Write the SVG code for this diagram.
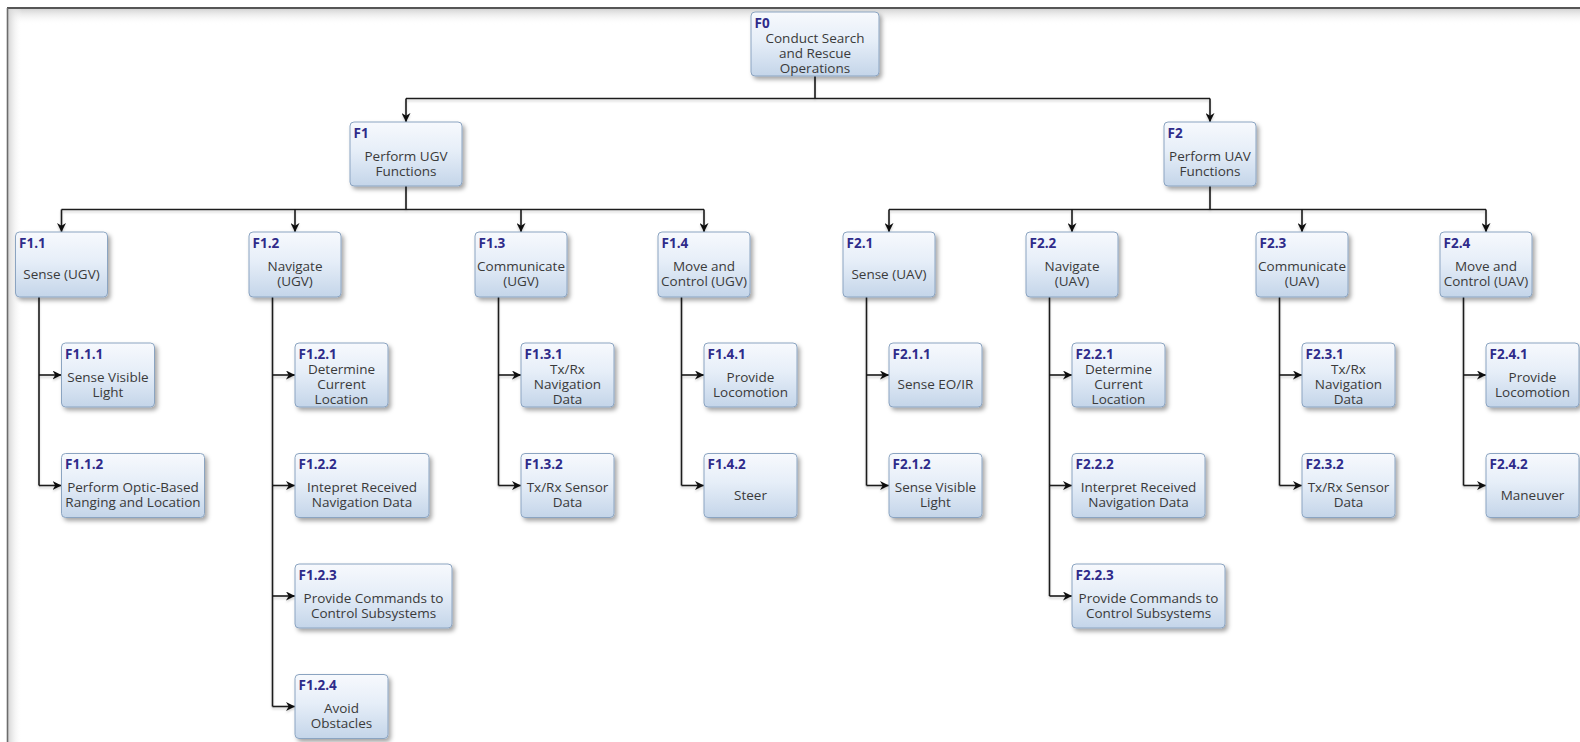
<svg xmlns="http://www.w3.org/2000/svg" width="1580" height="742" viewBox="0 0 1580 742">
  <defs>
    <linearGradient id="boxFill" x1="0" y1="0" x2="0" y2="1">
      <stop offset="0" stop-color="#f7f9fd"/>
      <stop offset="0.45" stop-color="#e6eef8"/>
      <stop offset="1" stop-color="#c4d5e9"/>
    </linearGradient>
    <linearGradient id="shadeTop" x1="0" y1="0" x2="0" y2="1">
      <stop offset="0" stop-color="#d4d4d4"/>
      <stop offset="1" stop-color="#ffffff" stop-opacity="0"/>
    </linearGradient>
    <linearGradient id="shadeLeft" x1="0" y1="0" x2="1" y2="0">
      <stop offset="0" stop-color="#d4d4d4"/>
      <stop offset="1" stop-color="#ffffff" stop-opacity="0"/>
    </linearGradient>
    <filter id="boxShadow" x="-20%" y="-20%" width="150%" height="160%">
      <feDropShadow dx="2.5" dy="3" stdDeviation="2" flood-color="#000" flood-opacity="0.35"/>
    </filter>
    <filter id="lineShadow" x="-5%" y="-5%" width="110%" height="110%">
      <feDropShadow dx="0" dy="2" stdDeviation="1.2" flood-color="#000" flood-opacity="0.18"/>
    </filter>
    <marker id="arrow" viewBox="0 0 10 10" refX="10" refY="5" markerWidth="9" markerHeight="9" markerUnits="userSpaceOnUse" orient="auto">
      <path d="M0,0 L10,5 L0,10 L3,5 z" fill="#111"/>
    </marker>
    <style>
      .box { fill: url(#boxFill); stroke: #8ba4c1; stroke-width: 1; filter: url(#boxShadow); }
      .id { font-family: "Open Sans", "DejaVu Sans", sans-serif; font-weight: 700; font-size: 13.5px; fill: #2f2b8a; }
      .tx { font-family: "Open Sans", "DejaVu Sans", sans-serif; font-size: 13.5px; fill: #3a3a3a; text-anchor: middle; }
      .cn { fill: none; stroke: #1a1a1a; stroke-width: 1.6; }
      .ar { marker-end: url(#arrow); }
    </style>
  </defs>

  <!-- page background and frame -->
  <rect x="0" y="0" width="1580" height="742" fill="#ffffff"/>
  <rect x="8" y="9" width="1572" height="16" fill="url(#shadeTop)"/>
  <rect x="8" y="9" width="14" height="733" fill="url(#shadeLeft)"/>
  <line x1="7" y1="8" x2="1580" y2="8" stroke="#1e1e1e" stroke-width="1.6"/>
  <line x1="7.5" y1="8" x2="7.5" y2="742" stroke="#6c6c6c" stroke-width="1.6"/>

  <!-- connectors -->
  <g id="connectors" filter="url(#lineShadow)">
    <!-- F0 to level 1 -->
    <path class="cn" d="M815,76 V98.5 M406,98.5 H1210"/>
    <path class="cn ar" d="M406,98.5 V122"/>
    <path class="cn ar" d="M1210,98.5 V122"/>
    <!-- F1 to level 2 -->
    <path class="cn" d="M406,186 V209.5 M61.5,209.5 H704"/>
    <path class="cn ar" d="M61.5,209.5 V232"/>
    <path class="cn ar" d="M295,209.5 V232"/>
    <path class="cn ar" d="M521,209.5 V232"/>
    <path class="cn ar" d="M704,209.5 V232"/>
    <!-- F2 to level 2 -->
    <path class="cn" d="M1210,186 V209.5 M889,209.5 H1486"/>
    <path class="cn ar" d="M889,209.5 V232"/>
    <path class="cn ar" d="M1072,209.5 V232"/>
    <path class="cn ar" d="M1302,209.5 V232"/>
    <path class="cn ar" d="M1486,209.5 V232"/>
    <!-- F1.1 children -->
    <path class="cn" d="M39,297 V485.5"/>
    <path class="cn ar" d="M39,375 H61.5"/>
    <path class="cn ar" d="M39,485.5 H61.5"/>
    <!-- F1.2 children -->
    <path class="cn" d="M272.5,297 V706.5"/>
    <path class="cn ar" d="M272.5,375 H295"/>
    <path class="cn ar" d="M272.5,485.5 H295"/>
    <path class="cn ar" d="M272.5,596 H295"/>
    <path class="cn ar" d="M272.5,706.5 H295"/>
    <!-- F1.3 children -->
    <path class="cn" d="M498.5,297 V485.5"/>
    <path class="cn ar" d="M498.5,375 H521"/>
    <path class="cn ar" d="M498.5,485.5 H521"/>
    <!-- F1.4 children -->
    <path class="cn" d="M681.5,297 V485.5"/>
    <path class="cn ar" d="M681.5,375 H704"/>
    <path class="cn ar" d="M681.5,485.5 H704"/>
    <!-- F2.1 children -->
    <path class="cn" d="M866.5,297 V485.5"/>
    <path class="cn ar" d="M866.5,375 H889"/>
    <path class="cn ar" d="M866.5,485.5 H889"/>
    <!-- F2.2 children -->
    <path class="cn" d="M1049.5,297 V596"/>
    <path class="cn ar" d="M1049.5,375 H1072"/>
    <path class="cn ar" d="M1049.5,485.5 H1072"/>
    <path class="cn ar" d="M1049.5,596 H1072"/>
    <!-- F2.3 children -->
    <path class="cn" d="M1279.5,297 V485.5"/>
    <path class="cn ar" d="M1279.5,375 H1302"/>
    <path class="cn ar" d="M1279.5,485.5 H1302"/>
    <!-- F2.4 children -->
    <path class="cn" d="M1463.5,297 V485.5"/>
    <path class="cn ar" d="M1463.5,375 H1486"/>
    <path class="cn ar" d="M1463.5,485.5 H1486"/>
  </g>

  <!-- top function -->
  <g id="F0">
    <rect class="box" x="751" y="12" width="128" height="64" rx="4"/>
    <text class="id" x="754.5" y="27.5">F0</text>
    <text class="tx" x="815" y="43.1">Conduct Search</text>
    <text class="tx" x="815" y="58.1">and Rescue</text>
    <text class="tx" x="815" y="73.1">Operations</text>
  </g>

  <!-- level 1 -->
  <g id="F1">
    <rect class="box" x="350" y="122" width="112" height="64" rx="4"/>
    <text class="id" x="353.5" y="137.5">F1</text>
    <text class="tx" x="406" y="161">Perform UGV</text>
    <text class="tx" x="406" y="176">Functions</text>
  </g>
  <g id="F2">
    <rect class="box" x="1164" y="122" width="92" height="64" rx="4"/>
    <text class="id" x="1167.5" y="137.5">F2</text>
    <text class="tx" x="1210" y="161">Perform UAV</text>
    <text class="tx" x="1210" y="176">Functions</text>
  </g>

  <!-- level 2 -->
  <g id="F1.1">
    <rect class="box" x="15.5" y="232" width="92" height="65" rx="4"/>
    <text class="id" x="19" y="247.5">F1.1</text>
    <text class="tx" x="61.5" y="278.6">Sense (UGV)</text>
  </g>
  <g id="F1.2">
    <rect class="box" x="249" y="232" width="92" height="65" rx="4"/>
    <text class="id" x="252.5" y="247.5">F1.2</text>
    <text class="tx" x="295" y="271.1">Navigate</text>
    <text class="tx" x="295" y="286.1">(UGV)</text>
  </g>
  <g id="F1.3">
    <rect class="box" x="475" y="232" width="92" height="65" rx="4"/>
    <text class="id" x="478.5" y="247.5">F1.3</text>
    <text class="tx" x="521" y="271.1">Communicate</text>
    <text class="tx" x="521" y="286.1">(UGV)</text>
  </g>
  <g id="F1.4">
    <rect class="box" x="658" y="232" width="92" height="65" rx="4"/>
    <text class="id" x="661.5" y="247.5">F1.4</text>
    <text class="tx" x="704" y="271.1">Move and</text>
    <text class="tx" x="704" y="286.1">Control (UGV)</text>
  </g>
  <g id="F2.1">
    <rect class="box" x="843" y="232" width="92" height="65" rx="4"/>
    <text class="id" x="846.5" y="247.5">F2.1</text>
    <text class="tx" x="889" y="278.6">Sense (UAV)</text>
  </g>
  <g id="F2.2">
    <rect class="box" x="1026" y="232" width="92" height="65" rx="4"/>
    <text class="id" x="1029.5" y="247.5">F2.2</text>
    <text class="tx" x="1072" y="271.1">Navigate</text>
    <text class="tx" x="1072" y="286.1">(UAV)</text>
  </g>
  <g id="F2.3">
    <rect class="box" x="1256" y="232" width="92" height="65" rx="4"/>
    <text class="id" x="1259.5" y="247.5">F2.3</text>
    <text class="tx" x="1302" y="271.1">Communicate</text>
    <text class="tx" x="1302" y="286.1">(UAV)</text>
  </g>
  <g id="F2.4">
    <rect class="box" x="1440" y="232" width="92" height="65" rx="4"/>
    <text class="id" x="1443.5" y="247.5">F2.4</text>
    <text class="tx" x="1486" y="271.1">Move and</text>
    <text class="tx" x="1486" y="286.1">Control (UAV)</text>
  </g>

  <!-- level 3: UGV -->
  <g id="F1.1.1">
    <rect class="box" x="61.5" y="343" width="93" height="64" rx="4"/>
    <text class="id" x="65" y="358.5">F1.1.1</text>
    <text class="tx" x="108" y="381.6">Sense Visible</text>
    <text class="tx" x="108" y="396.6">Light</text>
  </g>
  <g id="F1.1.2">
    <rect class="box" x="61.5" y="453.5" width="143" height="64" rx="4"/>
    <text class="id" x="65" y="469">F1.1.2</text>
    <text class="tx" x="133" y="492.1">Perform Optic-Based</text>
    <text class="tx" x="133" y="507.1">Ranging and Location</text>
  </g>
  <g id="F1.2.1">
    <rect class="box" x="295" y="343" width="93" height="64" rx="4"/>
    <text class="id" x="298.5" y="358.5">F1.2.1</text>
    <text class="tx" x="341.5" y="374.1">Determine</text>
    <text class="tx" x="341.5" y="389.1">Current</text>
    <text class="tx" x="341.5" y="404.1">Location</text>
  </g>
  <g id="F1.2.2">
    <rect class="box" x="295" y="453.5" width="134" height="64" rx="4"/>
    <text class="id" x="298.5" y="469">F1.2.2</text>
    <text class="tx" x="362" y="492.1">Intepret Received</text>
    <text class="tx" x="362" y="507.1">Navigation Data</text>
  </g>
  <g id="F1.2.3">
    <rect class="box" x="295" y="564" width="157" height="64" rx="4"/>
    <text class="id" x="298.5" y="579.5">F1.2.3</text>
    <text class="tx" x="373.5" y="602.6">Provide Commands to</text>
    <text class="tx" x="373.5" y="617.6">Control Subsystems</text>
  </g>
  <g id="F1.2.4">
    <rect class="box" x="295" y="674.5" width="93" height="64" rx="4"/>
    <text class="id" x="298.5" y="690">F1.2.4</text>
    <text class="tx" x="341.5" y="713.1">Avoid</text>
    <text class="tx" x="341.5" y="728.1">Obstacles</text>
  </g>
  <g id="F1.3.1">
    <rect class="box" x="521" y="343" width="93" height="64" rx="4"/>
    <text class="id" x="524.5" y="358.5">F1.3.1</text>
    <text class="tx" x="567.5" y="374.1">Tx/Rx</text>
    <text class="tx" x="567.5" y="389.1">Navigation</text>
    <text class="tx" x="567.5" y="404.1">Data</text>
  </g>
  <g id="F1.3.2">
    <rect class="box" x="521" y="453.5" width="93" height="64" rx="4"/>
    <text class="id" x="524.5" y="469">F1.3.2</text>
    <text class="tx" x="567.5" y="492.1">Tx/Rx Sensor</text>
    <text class="tx" x="567.5" y="507.1">Data</text>
  </g>
  <g id="F1.4.1">
    <rect class="box" x="704" y="343" width="93" height="64" rx="4"/>
    <text class="id" x="707.5" y="358.5">F1.4.1</text>
    <text class="tx" x="750.5" y="381.6">Provide</text>
    <text class="tx" x="750.5" y="396.6">Locomotion</text>
  </g>
  <g id="F1.4.2">
    <rect class="box" x="704" y="453.5" width="93" height="64" rx="4"/>
    <text class="id" x="707.5" y="469">F1.4.2</text>
    <text class="tx" x="750.5" y="499.6">Steer</text>
  </g>

  <!-- level 3: UAV -->
  <g id="F2.1.1">
    <rect class="box" x="889" y="343" width="93" height="64" rx="4"/>
    <text class="id" x="892.5" y="358.5">F2.1.1</text>
    <text class="tx" x="935.5" y="389.1">Sense EO/IR</text>
  </g>
  <g id="F2.1.2">
    <rect class="box" x="889" y="453.5" width="93" height="64" rx="4"/>
    <text class="id" x="892.5" y="469">F2.1.2</text>
    <text class="tx" x="935.5" y="492.1">Sense Visible</text>
    <text class="tx" x="935.5" y="507.1">Light</text>
  </g>
  <g id="F2.2.1">
    <rect class="box" x="1072" y="343" width="93" height="64" rx="4"/>
    <text class="id" x="1075.5" y="358.5">F2.2.1</text>
    <text class="tx" x="1118.5" y="374.1">Determine</text>
    <text class="tx" x="1118.5" y="389.1">Current</text>
    <text class="tx" x="1118.5" y="404.1">Location</text>
  </g>
  <g id="F2.2.2">
    <rect class="box" x="1072" y="453.5" width="133" height="64" rx="4"/>
    <text class="id" x="1075.5" y="469">F2.2.2</text>
    <text class="tx" x="1138.5" y="492.1">Interpret Received</text>
    <text class="tx" x="1138.5" y="507.1">Navigation Data</text>
  </g>
  <g id="F2.2.3">
    <rect class="box" x="1072" y="564" width="153" height="64" rx="4"/>
    <text class="id" x="1075.5" y="579.5">F2.2.3</text>
    <text class="tx" x="1148.5" y="602.6">Provide Commands to</text>
    <text class="tx" x="1148.5" y="617.6">Control Subsystems</text>
  </g>
  <g id="F2.3.1">
    <rect class="box" x="1302" y="343" width="93" height="64" rx="4"/>
    <text class="id" x="1305.5" y="358.5">F2.3.1</text>
    <text class="tx" x="1348.5" y="374.1">Tx/Rx</text>
    <text class="tx" x="1348.5" y="389.1">Navigation</text>
    <text class="tx" x="1348.5" y="404.1">Data</text>
  </g>
  <g id="F2.3.2">
    <rect class="box" x="1302" y="453.5" width="93" height="64" rx="4"/>
    <text class="id" x="1305.5" y="469">F2.3.2</text>
    <text class="tx" x="1348.5" y="492.1">Tx/Rx Sensor</text>
    <text class="tx" x="1348.5" y="507.1">Data</text>
  </g>
  <g id="F2.4.1">
    <rect class="box" x="1486" y="343" width="93" height="64" rx="4"/>
    <text class="id" x="1489.5" y="358.5">F2.4.1</text>
    <text class="tx" x="1532.5" y="381.6">Provide</text>
    <text class="tx" x="1532.5" y="396.6">Locomotion</text>
  </g>
  <g id="F2.4.2">
    <rect class="box" x="1486" y="453.5" width="93" height="64" rx="4"/>
    <text class="id" x="1489.5" y="469">F2.4.2</text>
    <text class="tx" x="1532.5" y="499.6">Maneuver</text>
  </g>
</svg>
